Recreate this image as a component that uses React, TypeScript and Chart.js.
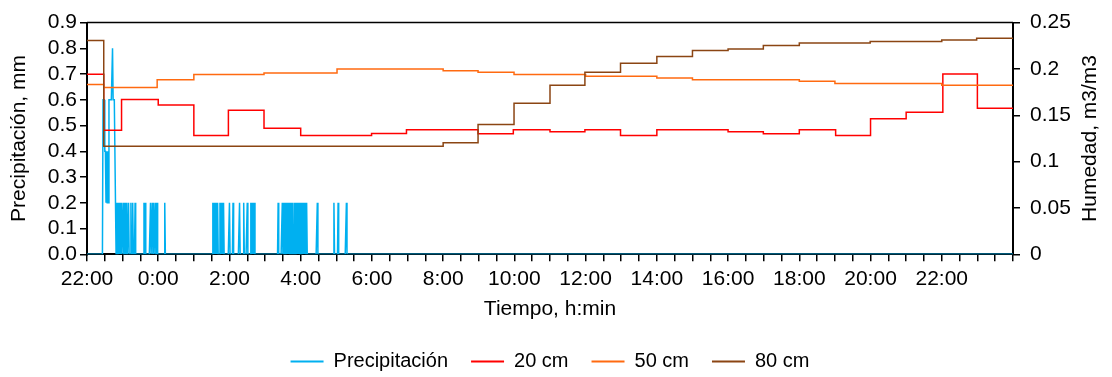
import React, { useEffect, useRef } from 'react';
import { Chart, registerables } from 'chart.js';

Chart.register(...registerables);

// ---------- texts ----------
const SERIES_NAMES = ['Precipitación', '20 cm', '50 cm', '80 cm'];
const X_TITLE = 'Tiempo, h:min';
const PRECIP_TITLE = 'Precipitación, mm';
const HUM_TITLE = 'Humedad, m3/m3';

// ---------- tick labels ----------
const TIME_TICK_LABELS = ['22:00', '0:00', '2:00', '4:00', '6:00', '8:00', '10:00', '12:00', '14:00', '16:00', '18:00', '20:00', '22:00'];
const PRECIP_TICK_LABELS = ['0.0', '0.1', '0.2', '0.3', '0.4', '0.5', '0.6', '0.7', '0.8', '0.9'];
const HUM_TICK_LABELS = ['0', '0.05', '0.1', '0.15', '0.2', '0.25'];

// ---------- precipitation (minutes after 22:00 with non-zero readings, mm) ----------
const RECORD_END_MINUTE = 1560;
const RAIN_MINUTES = [
  27, 28, 29, 30, 31, 32, 33, 34, 35, 36, 37, 38, 39, 40, 41, 42, 43, 44, 45, 46, 47, 48,
  50, 52, 54, 56, 58, 61, 64, 66, 70, 74, 77, 81, 96, 98, 107, 110, 112, 115, 118, 131,
  212, 214, 216, 218, 220, 224, 226, 228, 230, 240, 246, 257, 264, 270, 276, 278, 280, 282,
  322, 329, 331, 333, 335, 337, 339, 341, 343, 345, 347, 350, 352, 354, 356, 358, 360, 362, 364, 366, 368, 370,
  388, 416, 423, 437,
];
const RAIN_MM = [
  0.6, 0.6, 0.6, 0.4, 0.4, 0.2, 0.4, 0.2, 0.4, 0.2, 0.6, 0.6, 0.6, 0.6, 0.6, 0.6, 0.8, 0.6, 0.6, 0.6, 0.6, 0.2,
  0.2, 0.2, 0.2, 0.2, 0.2, 0.2, 0.2, 0.2, 0.2, 0.2, 0.2, 0.2, 0.2, 0.2, 0.2, 0.2, 0.2, 0.2, 0.2, 0.2,
  0.2, 0.2, 0.2, 0.2, 0.2, 0.2, 0.2, 0.2, 0.2, 0.2, 0.2, 0.2, 0.2, 0.2, 0.2, 0.2, 0.2, 0.2,
  0.2, 0.2, 0.2, 0.2, 0.2, 0.2, 0.2, 0.2, 0.2, 0.2, 0.2, 0.2, 0.2, 0.2, 0.2, 0.2, 0.2, 0.2, 0.2, 0.2, 0.2, 0.2,
  0.2, 0.2, 0.2, 0.2,
];

// ---------- soil moisture (hours after 22:00 when value changes, m3/m3) ----------
const HUM20_HOURS = [0, 0.47, 0.97, 2.0, 3.0, 3.97, 4.97, 6.0, 7.99, 8.97, 10.98, 11.97, 13.0, 13.98, 14.98, 16.0, 18.0, 18.99, 20.0, 21.02, 22.0, 23.0, 24.03, 25.0, 26];
const HUM20_VALUES = [0.1944, 0.1339, 0.1669, 0.1612, 0.1282, 0.1554, 0.1361, 0.1282, 0.1304, 0.1344, 0.1301, 0.1344, 0.1322, 0.1344, 0.1282, 0.1344, 0.1322, 0.1301, 0.1344, 0.1282, 0.1462, 0.1533, 0.1945, 0.1576, 0.1576];

const HUM50_HOURS = [0, 0.47, 1.97, 3.0, 4.97, 7.02, 10.0, 10.98, 11.99, 14.0, 16.0, 17.0, 20.0, 21.0, 24.0, 26];
const HUM50_VALUES = [0.1833, 0.1801, 0.1884, 0.1941, 0.1956, 0.1999, 0.1981, 0.1963, 0.1941, 0.192, 0.1902, 0.1884, 0.1866, 0.1844, 0.1825, 0.1825];

const HUM80_HOURS = [0, 0.47, 10.0, 10.98, 11.99, 13.0, 13.98, 14.98, 16.0, 17.0, 18.0, 18.99, 20.0, 21.99, 24.0, 24.98, 26];
const HUM80_VALUES = [0.2306, 0.1167, 0.1204, 0.14, 0.1629, 0.1823, 0.1963, 0.2061, 0.2135, 0.2198, 0.2214, 0.2253, 0.2279, 0.2296, 0.2311, 0.2332, 0.2332];

const COLORS = ['#00B0F0', '#FF0000', '#FF6A10', '#8B4513'];

const FONT_FAMILY = "'Liberation Sans', Arial, Helvetica, sans-serif";

function buildRain() {
  const byMinute = new Map<number, number>();
  RAIN_MINUTES.forEach((m, i) => byMinute.set(m, RAIN_MM[i]));
  const pts: { x: number; y: number }[] = [];
  for (let m = 0; m <= RECORD_END_MINUTE; m++) {
    pts.push({ x: m / 60, y: byMinute.get(m) ?? 0 });
  }
  return pts;
}

function zipSteps(hours: number[], values: number[]) {
  return hours.map((h, i) => ({ x: h, y: values[i] }));
}

const framePlugin = {
  id: 'frameAndRightTitle',
  afterDraw(chart: any) {
    const { ctx, chartArea } = chart;
    const { left, right, top, bottom } = chartArea;
    ctx.save();
    ctx.strokeStyle = '#000';
    ctx.lineWidth = 1.5;
    ctx.beginPath();
    ctx.moveTo(left, top);
    ctx.lineTo(right, top);
    ctx.stroke();
    const yHum = chart.scales.yHum;
    ctx.translate(yHum.right - 21.5, (top + bottom) / 2);
    ctx.rotate(-Math.PI / 2);
    ctx.font = `21px ${FONT_FAMILY}`;
    ctx.fillStyle = '#000';
    ctx.textAlign = 'center';
    ctx.textBaseline = 'middle';
    ctx.fillText(HUM_TITLE, 0, 0);
    ctx.restore();
  },
};

export default function App() {
  const canvasRef = useRef<HTMLCanvasElement>(null);

  useEffect(() => {
    if (!canvasRef.current) return;
    Chart.defaults.font.family = FONT_FAMILY;
    Chart.defaults.color = '#000';

    const tickGrid = { drawOnChartArea: false, drawTicks: true, tickLength: 7, color: '#000', lineWidth: 1.5 };

    const chart = new Chart(canvasRef.current, {
      type: 'line',
      data: {
        datasets: [
          {
            label: SERIES_NAMES[0],
            data: buildRain(),
            yAxisID: 'yPrec',
            borderColor: COLORS[0],
            backgroundColor: COLORS[0],
            borderWidth: 1.5,
            pointRadius: 0,
            order: 4,
          },
          {
            label: SERIES_NAMES[1],
            data: zipSteps(HUM20_HOURS, HUM20_VALUES),
            yAxisID: 'yHum',
            stepped: 'before',
            borderColor: COLORS[1],
            backgroundColor: COLORS[1],
            borderWidth: 1.5,
            pointRadius: 0,
            order: 3,
          },
          {
            label: SERIES_NAMES[2],
            data: zipSteps(HUM50_HOURS, HUM50_VALUES),
            yAxisID: 'yHum',
            stepped: 'before',
            borderColor: COLORS[2],
            backgroundColor: COLORS[2],
            borderWidth: 1.5,
            pointRadius: 0,
            order: 2,
          },
          {
            label: SERIES_NAMES[3],
            data: zipSteps(HUM80_HOURS, HUM80_VALUES),
            yAxisID: 'yHum',
            stepped: 'before',
            borderColor: COLORS[3],
            backgroundColor: COLORS[3],
            borderWidth: 1.5,
            pointRadius: 0,
            order: 1,
          },
        ],
      },
      options: {
        animation: false,
        responsive: false,
        events: [],
        layout: { padding: { top: 21, bottom: -4.5, left: 0, right: 0 } },
        plugins: {
          tooltip: { enabled: false },
          legend: {
            position: 'bottom',
            fullSize: false,
            labels: {
              usePointStyle: true,
              pointStyle: 'line',
              pointStyleWidth: 33,
              padding: 23,
              font: { size: 20 },
              color: '#000',
              sort: (a: any, b: any) => a.datasetIndex - b.datasetIndex,
              generateLabels: (chart: any) =>
                (Chart.defaults.plugins.legend.labels.generateLabels as any)(chart).map((l: any) => ({ ...l, lineWidth: 2.2 })),
            },
          },
        },
        scales: {
          x: {
            type: 'linear',
            min: 0,
            max: 26,
            afterFit: (s: any) => { s.height = 74.2; },
            ticks: {
              stepSize: 0.5,
              maxTicksLimit: 100,
              autoSkip: false,
              maxRotation: 0,
              minRotation: 0,
              padding: 5,
              font: { size: 21 },
              color: '#000',
              callback: (v: any) => {
                const i = Number(v) / 2;
                if (Math.abs(i - Math.round(i)) > 1e-6) return '';
                return TIME_TICK_LABELS[Math.round(i)] ?? '';
              },
            },
            grid: tickGrid,
            border: { color: '#000', width: 2 },
            title: { display: true, text: X_TITLE, font: { size: 21 }, color: '#000', padding: { top: 0, bottom: 6.4 } },
          },
          yPrec: {
            type: 'linear',
            position: 'left',
            min: 0,
            max: 0.9,
            afterFit: (s: any) => { s.width = 87; },
            ticks: {
              stepSize: 0.1,
              autoSkip: false,
              padding: 3,
              font: { size: 21 },
              color: '#000',
              callback: (v: any) => PRECIP_TICK_LABELS[Math.round(Number(v) / 0.1)] ?? '',
            },
            grid: tickGrid,
            border: { color: '#000', width: 2 },
            title: { display: true, text: PRECIP_TITLE, font: { size: 21 }, color: '#000', padding: { top: 7, bottom: 0 } },
          },
          yHum: {
            type: 'linear',
            position: 'right',
            min: 0,
            max: 0.25,
            afterFit: (s: any) => { s.width = 99; },
            ticks: {
              stepSize: 0.05,
              autoSkip: false,
              padding: 10,
              font: { size: 21 },
              color: '#000',
              callback: (v: any) => HUM_TICK_LABELS[Math.round(Number(v) / 0.05)] ?? '',
            },
            grid: tickGrid,
            border: { color: '#000', width: 2 },
            title: { display: false },
          },
        },
      },
      plugins: [framePlugin],
    } as any);

    return () => chart.destroy();
  }, []);

  return (
    <div style={{ position: 'absolute', left: 0, top: 0, width: 1112, height: 377, background: '#fff' }}>
      <canvas ref={canvasRef} width={1112} height={377} style={{ display: 'block', width: 1112, height: 377 }} />
    </div>
  );
}
